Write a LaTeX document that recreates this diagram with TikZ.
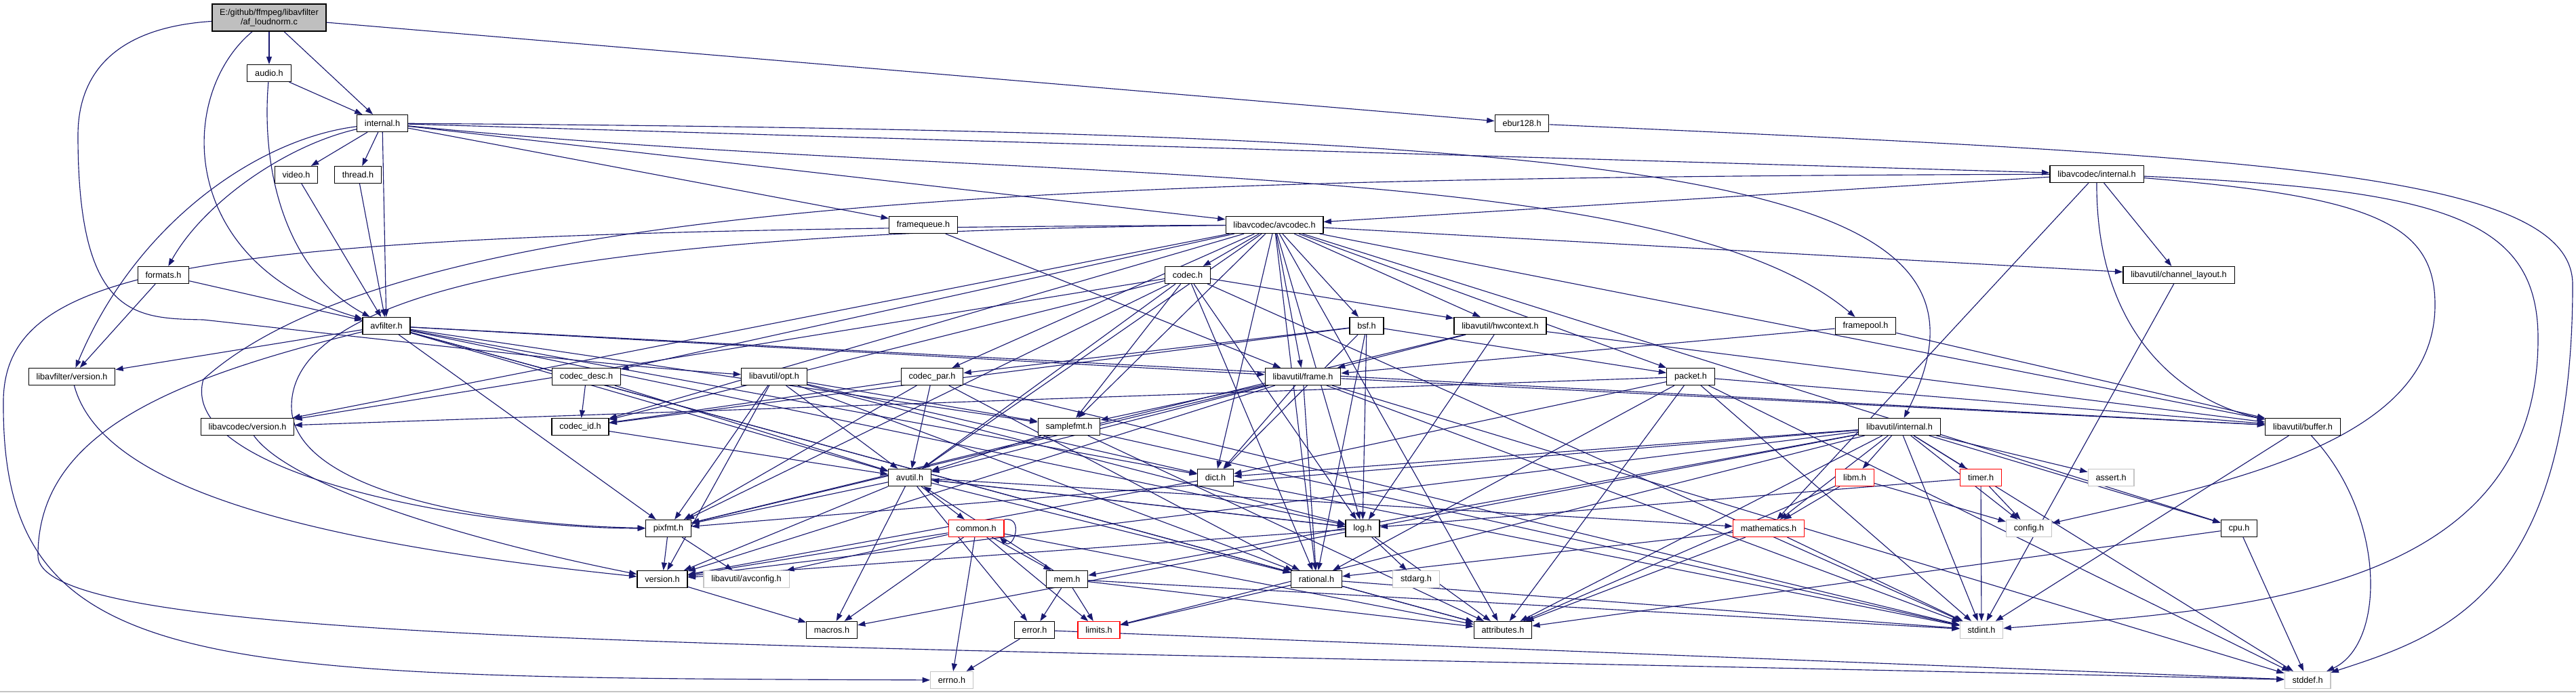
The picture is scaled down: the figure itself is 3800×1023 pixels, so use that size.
\documentclass[tikz,border=0pt]{standalone}
\usepackage{fontspec}
\setmainfont{Liberation Sans}
\usepackage{tikz}
\usetikzlibrary{arrows.meta, backgrounds}
\definecolor{edgeblue}{HTML}{191970}
\definecolor{rootgray}{HTML}{BFBFBF}
\definecolor{sysgray}{HTML}{C4C4C4}
\definecolor{truncred}{HTML}{FF0000}

\begin{document}
\begin{tikzpicture}[
  x=0.75pt, y=-0.75pt,
  every node/.style={font=\fontsize{9.5}{10.5}\selectfont},
  file/.style={draw=black, line width=0.9pt, fill=white,
               inner xsep=8.5pt, inner ysep=0pt, minimum height=18.75pt},
  root/.style={file, fill=rootgray, align=center, minimum height=30pt},
  sysfile/.style={file, draw=sysgray},
  truncfile/.style={file, draw=truncred},
  arr/.style={-{Triangle[length=8.5pt, width=6pt]}, edgeblue, line width=0.85pt}
]
\useasboundingbox (0,0) rectangle (3800,1023);

% source file and libavfilter headers
\node[root] (aflnorm) at (397,26) {E:/github/ffmpeg/libavfilter\\/af\_loudnorm.c};
\node[file] (audio) at (397,108) {audio.h};
\node[file] (internal) at (564,182) {internal.h};
\node[file] (ebur) at (2245,182) {ebur128.h};
\node[file] (video) at (437,258) {video.h};
\node[file] (thread) at (528,258) {thread.h};
\node[file] (lavcinternal) at (3093,257) {libavcodec/internal.h};
\node[file] (framequeue) at (1362,332) {framequeue.h};
\node[file] (avcodec) at (1880,332) {libavcodec/avcodec.h};
\node[file] (formats) at (241,406) {formats.h};
\node[file] (codec) at (1752,406) {codec.h};
\node[file] (chlayout) at (3214,406) {libavutil/channel\_layout.h};
\node[file] (avfilter) at (570,481) {avfilter.h};
\node[file] (bsf) at (2016,481) {bsf.h};
\node[file] (hwcontext) at (2213,481) {libavutil/hwcontext.h};
\node[file] (framepool) at (2752,481) {framepool.h};
\node[file] (lavfiversion) at (106,556) {libavfilter/version.h};
\node[file] (codecdesc) at (865,556) {codec\_desc.h};
\node[file] (opt) at (1142,556) {libavutil/opt.h};
\node[file] (codecpar) at (1375,556) {codec\_par.h};
\node[file] (frame) at (1922,556) {libavutil/frame.h};
\node[file] (packet) at (2494,556) {packet.h};
\node[file] (lavcversion) at (365,630) {libavcodec/version.h};
\node[file] (codecid) at (856,630) {codec\_id.h};
\node[file] (samplefmt) at (1577,630) {samplefmt.h};
\node[file] (lavuinternal) at (2802,630) {libavutil/internal.h};
\node[file] (buffer) at (3397,630) {libavutil/buffer.h};

% libavutil and system headers
\node[file] (avutil) at (1342,705) {avutil.h};
\node[file] (dict) at (1793,705) {dict.h};
\node[truncfile] (libm) at (2736,705) {libm.h};
\node[truncfile] (timer) at (2922,705) {timer.h};
\node[sysfile] (assert) at (3114,705) {assert.h};
\node[file] (pixfmt) at (986,780) {pixfmt.h};
\node[truncfile] (common) at (1440,780) {common.h};
\node[file] (log) at (2010,780) {log.h};
\node[truncfile] (mathematics) at (2609,780) {mathematics.h};
\node[sysfile] (config) at (2993,780) {config.h};
\node[file] (cpu) at (3303,780) {cpu.h};
\node[file] (version) at (977,855) {version.h};
\node[sysfile] (avconfig) at (1101,855) {libavutil/avconfig.h};
\node[file] (mem) at (1574,855) {mem.h};
\node[file] (rational) at (1942,855) {rational.h};
\node[sysfile] (stdarg) at (2089,855) {stdarg.h};
\node[file] (macros) at (1227,930) {macros.h};
\node[file] (error) at (1526,930) {error.h};
\node[truncfile] (limits) at (1621,930) {limits.h};
\node[file] (attributes) at (2217,930) {attributes.h};
\node[sysfile] (stdint) at (2923,930) {stdint.h};
\node[sysfile] (errno) at (1404,1004) {errno.h};
\node[sysfile] (stddef) at (3404,1004) {stddef.h};

\draw[sysgray, line width=1.2pt] (0,1021) -- (3800,1021);

\begin{scope}[on background layer]
% af_loudnorm.c
\foreach \dst in {audio,internal,ebur} \draw[arr] (aflnorm) -- (\dst);
\draw[arr] (aflnorm) .. controls (260,140) and (260,390) .. (avfilter);
\draw[arr] (aflnorm) .. controls (180,40) and (115,100) .. (115,200)
  .. controls (115,470) and (200,470) .. (300,472)
  .. controls (600,505) and (900,540) .. (opt);

% libavfilter
\draw[arr] (audio) -- (internal);
\draw[arr] (audio) .. controls (385,250) and (420,400) .. (avfilter);
\foreach \dst in {video,thread,avfilter,framequeue,avcodec,lavcinternal}
  \draw[arr] (internal) -- (\dst);
\draw[arr] (internal) .. controls (420,215) and (300,300) .. (formats);
\draw[arr] (internal) .. controls (380,205) and (200,330) .. (lavfiversion);
\draw[arr] (internal) .. controls (1500,275) and (2450,225) .. (framepool);
\draw[arr] (internal) .. controls (2500,195) and (2990,260) .. (lavuinternal);
\foreach \src in {video,thread,formats} \draw[arr] (\src) -- (avfilter);
\draw[arr] (formats) -- (lavfiversion);
\draw[arr] (ebur) .. controls (3300,230) and (3795,250) .. (3795,420)
  .. controls (3795,880) and (3600,940) .. (stddef);
\draw[arr] (framequeue) -- (frame);
\foreach \dst in {frame,buffer} \draw[arr] (framepool) -- (\dst);
\foreach \dst in {attributes,avutil,buffer,dict,frame,log,samplefmt,pixfmt,rational,lavfiversion}
  \draw[arr] (avfilter) -- (\dst);
\draw[arr] (avfilter) .. controls (250,560) and (56,640) .. (56,820)
  .. controls (56,960) and (1200,950) .. (stddef);
\draw[arr] (lavfiversion) .. controls (150,720) and (450,800) .. (version);

% libavcodec
\foreach \dst in {chlayout,mathematics,avcodec} \draw[arr] (lavcinternal) -- (\dst);
\draw[arr] (lavcinternal) .. controls (3092,520) and (3250,600) .. (buffer);
\draw[arr] (lavcinternal) .. controls (3500,290) and (3592,330) .. (3592,450)
  .. controls (3592,650) and (3300,710) .. (config);
\draw[arr] (lavcinternal) .. controls (3600,280) and (3744,320) .. (3744,500)
  .. controls (3744,880) and (3300,900) .. (stdint);
\draw[arr] (lavcinternal) .. controls (1600,262) and (600,290) .. (300,560)
  .. controls (260,700) and (700,780) .. (pixfmt);
\foreach \dst in {samplefmt,attributes,avutil,buffer,cpu,chlayout,dict,frame,hwcontext,log,rational,bsf,codec,codecdesc,codecpar,codecid,packet,lavcversion}
  \draw[arr] (avcodec) -- (\dst);
\draw[arr] (avcodec) .. controls (1000,340) and (430,400) .. (430,600)
  .. controls (430,720) and (700,775) .. (pixfmt);
\draw[arr] (avcodec) .. controls (300,340) and (0,380) .. (5,600)
  .. controls (5,1000) and (300,1000) .. (errno);
\foreach \dst in {stdint,avutil,hwcontext,log,pixfmt,rational,samplefmt,codecid,lavcversion}
  \draw[arr] (codec) -- (\dst);
\foreach \dst in {avutil,codecid} \draw[arr] (codecdesc) -- (\dst);
\draw[arr] (codecid) -- (avutil);
\foreach \dst in {stdint,avutil,rational,pixfmt,codecid} \draw[arr] (codecpar) -- (\dst);
\foreach \dst in {dict,log,rational,codecid,codecpar,packet} \draw[arr] (bsf) -- (\dst);
\foreach \dst in {stddef,stdint,attributes,buffer,dict,rational,lavcversion}
  \draw[arr] (packet) -- (\dst);
\draw[arr] (lavcversion) .. controls (430,720) and (700,800) .. (version);

% libavutil
\foreach \dst in {buffer,frame,log,pixfmt} \draw[arr] (hwcontext) -- (\dst);
\foreach \dst in {stddef,stdint,avutil,buffer,dict,rational,samplefmt,pixfmt,version}
  \draw[arr] (frame) -- (\dst);
\foreach \dst in {stdint,avutil,attributes} \draw[arr] (samplefmt) -- (\dst);
\foreach \dst in {stdint,version} \draw[arr] (dict) -- (\dst);
\draw[arr] (buffer) -- (stdint);
\draw[arr] (buffer) .. controls (3520,760) and (3520,950) .. (stddef);
\draw[arr] (chlayout) -- (stdint);
\foreach \dst in {rational,avutil,dict,log,pixfmt,samplefmt,version} \draw[arr] (opt) -- (\dst);
\foreach \dst in {common,error,rational,version,macros,mathematics,log,pixfmt}
  \draw[arr] (avutil) -- (\dst);
\foreach \dst in {errno,limits,attributes,macros,version,avconfig,mem} \draw[arr] (common) -- (\dst);
\draw[arr] (common.north east) .. controls +(30,-5) and +(20,20) .. ([xshift=-5pt]common.south east);
\foreach \dst in {limits,stdint,stddef,assert,config,attributes,timer,cpu,dict,macros,mem,pixfmt,version,libm,mathematics}
  \draw[arr] (lavuinternal) -- (\dst);
\foreach \dst in {limits,stdint,attributes,error,avutil} \draw[arr] (mem) -- (\dst);
\foreach \dst in {errno,stddef} \draw[arr] (error) -- (\dst);
\foreach \dst in {stdarg,avutil,attributes,version} \draw[arr] (log) -- (\dst);
\foreach \dst in {stdint,limits,attributes} \draw[arr] (rational) -- (\dst);
\foreach \dst in {avconfig,version} \draw[arr] (pixfmt) -- (\dst);
\draw[arr] (version) -- (macros);
\foreach \dst in {config,attributes,mathematics} \draw[arr] (libm) -- (\dst);
\foreach \dst in {stdint,attributes,rational} \draw[arr] (mathematics) -- (\dst);
\foreach \dst in {config,stdint,log} \draw[arr] (timer) -- (\dst);
\foreach \dst in {attributes,stddef} \draw[arr] (cpu) -- (\dst);
\end{scope}
\end{tikzpicture}
\end{document}
